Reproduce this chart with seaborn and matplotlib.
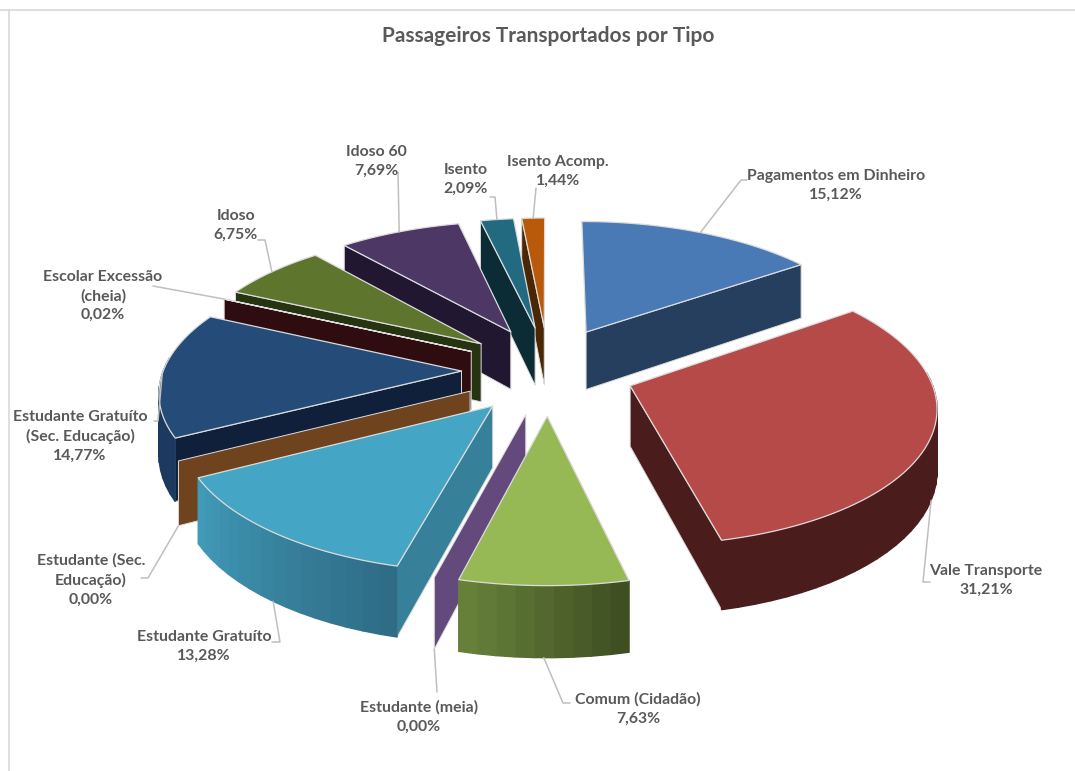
import numpy as np
import pandas as pd
import seaborn as sns
from matplotlib import pyplot as plt
from matplotlib.patches import Polygon

TITLE = "Passageiros Transportados por Tipo"
categories = [
    "Pagamentos em Dinheiro",
    "Vale Transporte",
    "Comum (Cidadão)",
    "Estudante (meia)",
    "Estudante Gratuíto",
    "Estudante (Sec.\nEducação)",
    "Estudante Gratuíto\n(Sec. Educação)",
    "Escolar Excessão\n(cheia)",
    "Idoso",
    "Idoso 60",
    "Isento",
    "Isento Acomp.",
]
values = [15.12, 31.21, 7.63, 0.00, 13.28, 0.00, 14.77, 0.02, 6.75, 7.69, 2.09, 1.44]

top_colors = ["#4a7ab5", "#b54a48", "#97b955", "#674a83", "#45a5c4", "#7a4a20",
              "#254b79", "#2e0c10", "#5d752c", "#4d3765", "#226a80", "#b85a0a"]
wall_colors = ["#263f5f", "#4a1d1c", "#4f6130", "#644a7c", "#36809a", "#6e431e",
               "#101f3a", "#2e0c10", "#263412", "#211730", "#0b2b35", "#4a2605"]
rim_first = ["#263f5f", "#4a1d1c", "#3f4f22", "#644a7c", "#2f6c86", "#6e431e",
             "#1c3a60", "#2e0c10", "#263412", "#211730", "#0b2b35", "#4a2605"]
rim_last = ["#263f5f", "#4a1d1c", "#66803a", "#644a7c", "#409ab8", "#6e431e",
            "#1c3a60", "#2e0c10", "#263412", "#211730", "#0b2b35", "#4a2605"]

# label centre in pixels, then the elbow of the leader line
label_xy = [(836, 185), (986, 580), (638, 709), (419, 717), (204, 646), (91, 580),
            (80, 436), (103, 296), (236, 225), (376, 161), (466, 179), (558, 171)]
elbows = [[(747, 180), (741, 180)], [(930, 582), (923, 582)], [(570, 703), (563, 703)],
          [(437, 692)], [(272, 642), (280, 642)], [(141, 578), (148, 578)],
          [(154, 421), (158, 421)], [(153, 286)], [(258, 240), (265, 240)],
          [(398, 172)], [(490, 197), (495, 197)], [(536, 188)]]
# leader ends on the top edge (0) or the bottom edge of the rim (1)
leader_low = [0, 1, 1, 1, 1, 1, 0, 0, 0, 0, 0, 0]

FONT = "Lato"
TEXT_COLOR = "#595959"
EDGE = "#dcdcdc"
CX, CY = 548, 370
FOCAL = 298
TILT = 0.45
PERSP = 0.13
EXPLODE_X = 0.29
EXPLODE_Y = 0.33
THICK = 0.2


def project(x, y, low=0.0):
    w = 1 + PERSP * y
    return CX + FOCAL * x / w, CY - FOCAL * (TILT * y - THICK * low) / w


def point(angle, mid, radius=1.0, low=0.0):
    x = EXPLODE_X * np.sin(mid) + radius * np.sin(angle)
    y = EXPLODE_Y * np.cos(mid) + radius * np.cos(angle)
    return project(x, y, low)


sns.set_theme(style="white")
df = pd.DataFrame({"category": categories, "value": values})
df["end"] = df["value"].cumsum() / df["value"].sum() * 2 * np.pi
df["start"] = df["end"].shift(fill_value=0.0)
df["mid"] = (df["start"] + df["end"]) / 2

fig = plt.figure(figsize=(10.75, 7.71), dpi=100)
ax = fig.add_axes([0, 0, 1, 1])
ax.set_xlim(0, 1075)
ax.set_ylim(771, 0)
ax.axis("off")

# frame of the original chart, open at the bottom
ax.plot([9, 9], [771, 10], color="#d9d9d9", lw=1.2)
ax.plot([0, 1075], [10, 10], color="#d9d9d9", lw=1.2)

# back slices first
order = df.assign(depth=np.cos(df["mid"])).sort_values("depth", ascending=False).index
for i in order:
    s, e, m = df.loc[i, ["start", "end", "mid"]]
    # radial walls turned to the viewer
    for a, seen in ((s, s >= np.pi), (e, e < np.pi)):
        if seen:
            wall = [point(a, m, 0), point(a, m, 1), point(a, m, 1, 1), point(a, m, 0, 1)]
            ax.add_patch(Polygon(wall, fc=wall_colors[i], ec=EDGE, lw=0.7, joinstyle="round"))
    # rim as narrow bands, only the front half shows
    lo, hi = max(s, np.pi / 2 - 0.1), min(e, 3 * np.pi / 2 + 0.1)
    if hi > lo:
        n = max(int((hi - lo) / 0.05), 2)
        edges = np.linspace(lo, hi, n + 1)
        shades = sns.blend_palette([rim_first[i], rim_last[i]], n)
        for k in range(n):
            a0, a1 = edges[k], edges[k + 1]
            band = [point(a0, m), point(a1, m), point(a1, m, 1, 1), point(a0, m, 1, 1)]
            ax.add_patch(Polygon(band, fc=shades[k], ec=shades[k], lw=1.0))
    # top face
    arc = np.linspace(s, e, 60)
    face = [point(m, m, 0)] + [point(a, m) for a in arc]
    if e > s:
        ax.add_patch(Polygon(face, fc=top_colors[i], ec=EDGE, lw=0.9, joinstyle="round"))

for i in df.index:
    m = df.loc[i, "mid"]
    end = point(m, m, 1, leader_low[i])
    pts = [end] + elbows[i][::-1]
    ax.plot([p[0] for p in pts], [p[1] for p in pts], color="#bfbfbf", lw=1.1, zorder=5)
    pct = f"{values[i]:.2f}".replace(".", ",") + "%"
    ax.text(*label_xy[i], f"{categories[i]}\n{pct}", ha="center", va="center", fontsize=11.4,
            family=FONT, weight="bold", color=TEXT_COLOR, linespacing=1.42, zorder=6)

ax.text(548, 36, TITLE, ha="center", va="center", fontsize=15, family=FONT,
        weight="bold", color=TEXT_COLOR)

fig.savefig("out.png", dpi=100)
